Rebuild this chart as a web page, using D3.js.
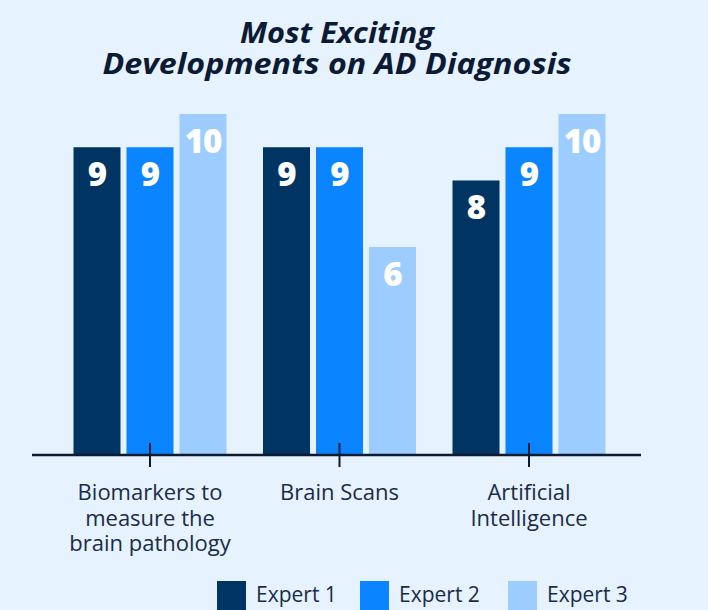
<!DOCTYPE html>
<html>
<head>
<meta charset="utf-8">
<script src="https://cdn.jsdelivr.net/npm/d3@7"></script>
<style>
  html, body { margin: 0; padding: 0; background: #e6f2fe; }
  svg { display: block; }
</style>
</head>
<body>
<svg id="chart" width="708" height="610"></svg>
<script>
const categories = [
  ["Biomarkers to", "measure the", "brain pathology"],
  ["Brain Scans"],
  ["Artificial", "Intelligence"]
];
const categoryKeys = ["Biomarkers", "Brain Scans", "Artificial Intelligence"];
const seriesNames = ["Expert 1", "Expert 2", "Expert 3"];
const expert1 = [9, 9, 8];
const expert2 = [9, 9, 9];
const expert3 = [10, 6, 10];
const seriesColors = ["#003463", "#0a85ff", "#9ccdfe"];
const titleLines = ["Most Exciting", "Developments on AD Diagnosis"];
const titleWidths = [194, 469];

const seriesValues = [expert1, expert2, expert3];
const data = categoryKeys.map((k, i) => ({
  key: k,
  values: seriesNames.map((s, j) => ({ series: s, value: seriesValues[j][i], idx: j }))
}));

const svg = d3.select("#chart");
const W = 708, H = 610;
svg.append("rect").attr("width", W).attr("height", H).attr("fill", "#e6f2fe");

const baseline = 454;
const y = d3.scaleLinear().domain([-0.23, 10]).range([baseline, 114]);

const x0 = d3.scaleBand().domain(categoryKeys).range([55.25, 623.75])
  .paddingInner(0.1926).paddingOuter(0.0963);
const x1 = d3.scaleBand().domain(seriesNames).range([0, x0.bandwidth()])
  .paddingInner(0.113).paddingOuter(0);
const color = d3.scaleOrdinal().domain(seriesNames).range(seriesColors);

// Title
svg.selectAll("text.title").data(titleLines).join("text")
  .attr("class", "title")
  .attr("x", 337).attr("y", (d, i) => 43 + i * 31)
  .attr("text-anchor", "middle")
  .attr("font-family", "'Open Sans', sans-serif")
  .attr("font-weight", 700).attr("font-style", "italic")
  .attr("font-size", 28).attr("fill", "#0c1a33")
  .attr("textLength", (d, i) => titleWidths[i])
  .attr("lengthAdjust", "spacingAndGlyphs")
  .text(d => d);

// Bars
const groups = svg.selectAll("g.grp").data(data).join("g")
  .attr("class", "grp")
  .attr("transform", d => `translate(${x0(d.key)},0)`);

groups.selectAll("rect").data(d => d.values).join("rect")
  .attr("x", d => x1(d.series))
  .attr("y", d => y(d.value))
  .attr("width", x1.bandwidth())
  .attr("height", d => baseline - y(d.value))
  .attr("fill", d => color(d.series));

groups.selectAll("text.val").data(d => d.values).join("text")
  .attr("class", "val")
  .attr("x", d => x1(d.series) + x1.bandwidth() / 2)
  .attr("y", d => y(d.value) + 39)
  .attr("text-anchor", "middle")
  .attr("font-family", "'Open Sans', sans-serif")
  .attr("font-weight", 800)
  .attr("font-size", 33)
  .attr("letter-spacing", -1)
  .attr("fill", "#ffffff")
  .text(d => d.value);

// Axis
const axisG = svg.append("g").attr("transform", `translate(0,${baseline + 1})`);
axisG.append("line").attr("x1", 32).attr("x2", 641).attr("y1", 0).attr("y2", 0)
  .attr("stroke", "#0d1b30").attr("stroke-width", 2.5);
axisG.selectAll("line.tick").data(categoryKeys).join("line")
  .attr("class", "tick")
  .attr("x1", d => x0(d) + x0.bandwidth() / 2)
  .attr("x2", d => x0(d) + x0.bandwidth() / 2)
  .attr("y1", -12).attr("y2", 12)
  .attr("stroke", "#0d1b30").attr("stroke-width", 2);

const labels = svg.selectAll("text.cat").data(categoryKeys).join("text")
  .attr("class", "cat")
  .attr("text-anchor", "middle")
  .attr("font-family", "'Open Sans', sans-serif")
  .attr("font-size", 22)
  .attr("fill", "#1a2c48");
labels.each(function(d, i) {
  const cx = x0(d) + x0.bandwidth() / 2;
  d3.select(this).selectAll("tspan").data(categories[i]).join("tspan")
    .attr("x", cx).attr("y", (t, j) => 500 + j * 25.5).text(t => t);
});

// Legend
const legendX = [217, 360, 508];
const leg = svg.selectAll("g.leg").data(seriesNames).join("g")
  .attr("class", "leg")
  .attr("transform", (d, i) => `translate(${legendX[i]},581)`);
leg.append("rect").attr("width", 29).attr("height", 29).attr("fill", d => color(d));
leg.append("text").attr("x", 39).attr("y", 21)
  .attr("font-family", "'Open Sans', sans-serif")
  .attr("font-size", 21).attr("fill", "#1a2c48")
  .text(d => d);
</script>
</body>
</html>
